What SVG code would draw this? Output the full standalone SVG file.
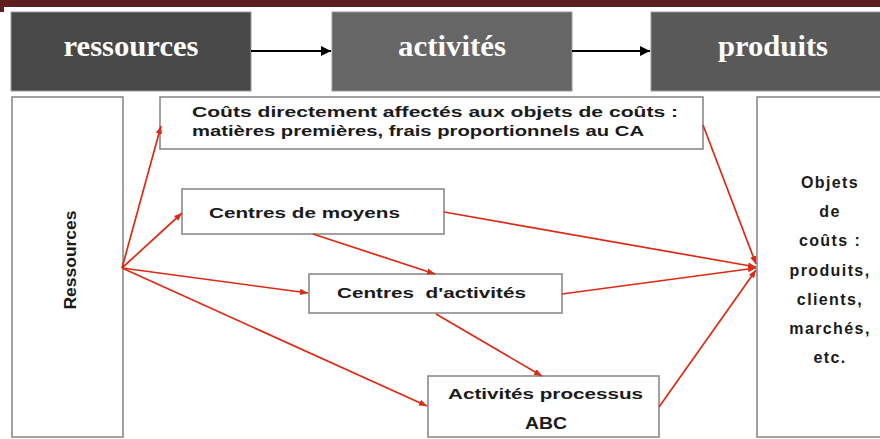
<svg xmlns="http://www.w3.org/2000/svg" width="880" height="439" viewBox="0 0 880 439">
  <defs>
    <marker id="blk" viewBox="0 0 10 10" refX="10" refY="5" markerWidth="10" markerHeight="10" markerUnits="userSpaceOnUse" orient="auto">
      <path d="M0,0 L10,5 L0,10 z" fill="#000"/>
    </marker>
    <marker id="red" viewBox="0 0 10 10" refX="10" refY="5" markerWidth="8" markerHeight="8" markerUnits="userSpaceOnUse" orient="auto">
      <path d="M0,1 L10,5 L0,9 z" fill="#dc2a14"/>
    </marker>
  </defs>
  <style>
    .hdr { stroke: #9a9a9a; stroke-width: 1; }
    .htxt { font-family: "Liberation Serif", "Times New Roman", serif; font-weight: bold; font-size: 30px; fill: #ffffff; text-anchor: middle; }
    .box { fill: #ffffff; stroke: #8a8a8a; stroke-width: 1.6; }
    .txt { font-family: "Liberation Sans", Arial, sans-serif; font-weight: bold; font-size: 15px; fill: #1a1a1a; white-space: pre; }
    .obj { font-family: "Liberation Sans", Arial, sans-serif; font-weight: bold; font-size: 16px; letter-spacing: 1.4px; fill: #1a1a1a; text-anchor: middle; }
    .mid { text-anchor: middle; }
    .link { fill: none; stroke: #dc2a14; stroke-width: 1.7; marker-end: url(#red); }
    .flow { fill: none; stroke: #000; stroke-width: 2; marker-end: url(#blk); }
  </style>

  <rect width="880" height="439" fill="#ffffff"/>
  <!-- top band -->
  <rect x="0" y="0" width="880" height="7" fill="#5e1f1f"/>
  <rect x="0" y="7" width="4" height="5" fill="#5e1f1f"/>

  <!-- header row -->
  <g id="h-ressources">
    <rect class="hdr" x="11" y="12" width="240" height="79" fill="#484848"/>
    <text class="htxt" x="131" y="56" textLength="135" lengthAdjust="spacingAndGlyphs">ressources</text>
  </g>
  <g id="h-activites">
    <rect class="hdr" x="332" y="12" width="240" height="79" fill="#666666"/>
    <text class="htxt" x="452" y="56" textLength="108" lengthAdjust="spacingAndGlyphs">activités</text>
  </g>
  <g id="h-produits">
    <rect class="hdr" x="651" y="12" width="240" height="79" fill="#595959"/>
    <text class="htxt" x="773" y="56" textLength="110" lengthAdjust="spacingAndGlyphs">produits</text>
  </g>

  <!-- nodes -->
  <g id="ressources">
    <rect class="box" x="12" y="97" width="111" height="340"/>
    <text class="txt mid" transform="translate(76 260) rotate(-90)" style="font-size:17px" textLength="99" lengthAdjust="spacingAndGlyphs">Ressources</text>
  </g>
  <g id="couts-directs">
    <rect class="box" x="160" y="97" width="543" height="52"/>
    <text class="txt" x="192" y="117" textLength="486" lengthAdjust="spacingAndGlyphs">Coûts directement affectés aux objets de coûts :</text>
    <text class="txt" x="192" y="136" textLength="452" lengthAdjust="spacingAndGlyphs">matières premières, frais proportionnels au CA</text>
  </g>
  <g id="centres-moyens">
    <rect class="box" x="182" y="189" width="262" height="45"/>
    <text class="txt" x="209" y="218" textLength="191" lengthAdjust="spacingAndGlyphs">Centres de moyens</text>
  </g>
  <g id="centres-activites">
    <rect class="box" x="309" y="274" width="253" height="39"/>
    <text class="txt" x="337" y="298" textLength="189" lengthAdjust="spacingAndGlyphs">Centres  d'activités</text>
  </g>
  <g id="activites-abc">
    <rect class="box" x="428" y="376" width="231" height="61"/>
    <text class="txt" x="448" y="399" textLength="195" lengthAdjust="spacingAndGlyphs">Activités processus</text>
    <text class="txt" x="525" y="429" style="font-size:16px" textLength="42" lengthAdjust="spacingAndGlyphs">ABC</text>
  </g>
  <g id="objets">
    <rect class="box" x="757" y="97" width="140" height="340"/>
    <text class="obj" x="830" y="188">Objets</text>
    <text class="obj" x="830" y="217">de</text>
    <text class="obj" x="830" y="246">coûts :</text>
    <text class="obj" x="830" y="276">produits,</text>
    <text class="obj" x="830" y="305">clients,</text>
    <text class="obj" x="830" y="334">marchés,</text>
    <text class="obj" x="830" y="363">etc.</text>
  </g>

  <!-- connectors -->
  <g id="connectors">
    <line class="flow" x1="251" y1="51" x2="331" y2="51"/>
    <line class="flow" x1="572" y1="51" x2="650" y2="51"/>

    <line class="link" x1="122" y1="268" x2="161" y2="126"/>
    <line class="link" x1="122" y1="268" x2="182" y2="213"/>
    <line class="link" x1="122" y1="268" x2="308" y2="293"/>
    <line class="link" x1="122" y1="268" x2="427" y2="406"/>
    <line class="link" x1="313" y1="234" x2="435" y2="274"/>
    <line class="link" x1="436" y1="314" x2="542" y2="376"/>
    <line class="link" x1="703" y1="125" x2="756" y2="264"/>
    <line class="link" x1="444" y1="212" x2="756" y2="267"/>
    <line class="link" x1="562" y1="294" x2="756" y2="268"/>
    <line class="link" x1="659" y1="407" x2="756" y2="270"/>
  </g>
</svg>
